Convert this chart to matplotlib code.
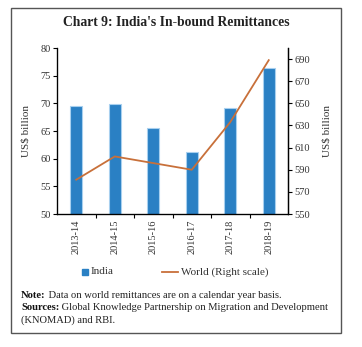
import matplotlib
matplotlib.use("Agg")
import matplotlib.pyplot as plt
from matplotlib.lines import Line2D
from matplotlib.patches import Rectangle

years = ["2013-14", "2014-15", "2015-16", "2016-17", "2017-18", "2018-19"]
india = [69.6, 69.8, 65.6, 61.2, 69.1, 76.4]
world = [581, 602, 596, 590, 633, 689]
left_ticks = [50, 55, 60, 65, 70, 75, 80]
right_ticks = [550, 570, 590, 610, 630, 650, 670, 690]

BAR = "#2a80c4"
BAR_EDGE = "#a8d0ef"
LINE = "#c8703a"
TXT = "#333333"
SERIF = ["Liberation Serif", "DejaVu Serif"]

plt.rcParams["font.family"] = SERIF

fig = plt.figure(figsize=(3.62, 3.47), dpi=100)
W, H = 362, 347


def fx(px):
    return px / W


def fy(py):
    return 1 - py / H


ax = fig.add_axes([fx(57), fy(214), (288 - 57) / W, (214 - 48) / H])
x = list(range(len(years)))
ax.bar(x, india, width=0.31, color=BAR, edgecolor=BAR_EDGE, linewidth=0.8, zorder=2)
ax.set_xlim(-0.5, len(years) - 0.5)
ax.set_ylim(50, 80)
ax.set_yticks(left_ticks)
ax.set_xticks(x)
ax.set_xticklabels(years, rotation=90)
ax.set_xticks([i + 0.5 for i in x[:-1]], minor=True)
ax.tick_params(axis="x", which="major", length=0, pad=4, labelsize=7.5, labelcolor=TXT)
ax.tick_params(axis="x", which="minor", length=3, direction="out", width=0.8)
ax.tick_params(axis="y", length=3, width=0.8, pad=1.5, labelsize=7.5, labelcolor=TXT)
ax.set_ylabel("US$ billion", fontsize=8, color=TXT, labelpad=7)
ax.spines["top"].set_visible(False)
for s in ["left", "bottom", "right"]:
    ax.spines[s].set_linewidth(0.9)

ax2 = ax.twinx()
ax2.plot(x, world, color=LINE, linewidth=1.3, zorder=3)
ax2.set_ylim(550, 700)
ax2.set_yticks(right_ticks)
ax2.tick_params(axis="y", length=3, width=0.8, pad=1.5, labelsize=7.5, labelcolor=TXT)
ax2.set_ylabel("US$ billion", fontsize=8, color=TXT, labelpad=9)
ax2.spines["top"].set_visible(False)
ax2.spines["right"].set_linewidth(0.9)

# Title
fig.text(fx(176), fy(23), "Chart 9: India's In-bound Remittances",
         ha="center", va="center", fontsize=9.8, fontweight="bold", color="#222222")

# Legend
fig.add_artist(Line2D([fx(85)], [fy(272)], marker="s", markersize=4.8, color=BAR,
                      markeredgecolor=BAR, linestyle="none", transform=fig.transFigure))
fig.text(fx(91), fy(272), "India", fontsize=8, va="center", ha="left", color=TXT)
fig.add_artist(Line2D([fx(162), fx(178)], [fy(272), fy(272)], color=LINE, linewidth=1.3,
                      transform=fig.transFigure))
fig.text(fx(181), fy(272), "World (Right scale)", fontsize=8, va="center", ha="left", color=TXT)

# Notes
fig.canvas.draw()
renderer = fig.canvas.get_renderer()
notes = [("Note:", " Data on world remittances are on a calendar year basis."),
         ("Sources:", " Global Knowledge Partnership on Migration and Development"),
         ("", "(KNOMAD) and RBI.")]
ys = [296, 308, 320]
for (b, rest), yy in zip(notes, ys):
    x0 = fx(21)
    if b:
        t = fig.text(x0, fy(yy), b, fontsize=7.6, fontweight="bold", va="center", ha="left",
                     color="#111111")
        bb = t.get_window_extent(renderer)
        x0 = bb.x1 / W
    fig.text(x0, fy(yy), rest, fontsize=7.6, va="center", ha="left", color="#222222")

# Outer frame
fig.add_artist(Rectangle((fx(11), fy(333)), (341 - 11) / W, (333 - 8) / H,
                         transform=fig.transFigure, fill=False, edgecolor="#555555",
                         linewidth=1.0))

fig.savefig("out.png", dpi=100)
